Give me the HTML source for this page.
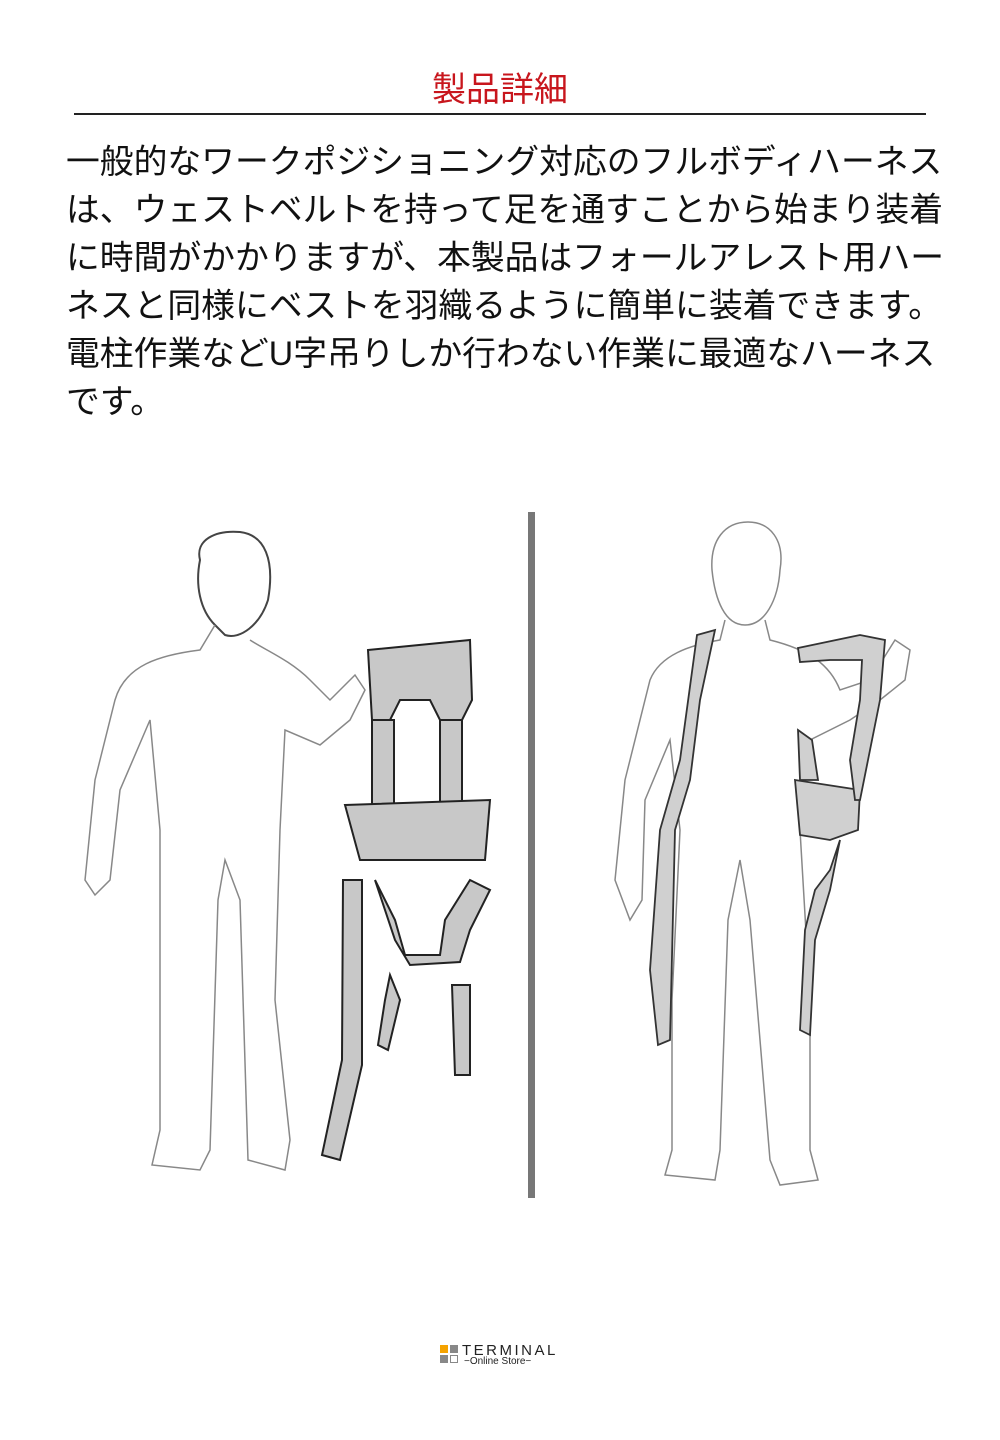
<!DOCTYPE html>
<html><head><meta charset="utf-8"><style>
html,body{margin:0;padding:0;background:#fff;}
body{width:1000px;height:1440px;position:relative;overflow:hidden;font-family:"Liberation Sans","Noto Sans CJK JP",sans-serif;}
.title{position:absolute;left:0;width:1000px;top:68px;text-align:center;color:#c8161d;font-size:34px;line-height:44px;}
.rule{position:absolute;left:74px;width:852px;top:113px;height:2px;background:#222;}
.txt{position:absolute;left:66px;top:138px;font-size:33.8px;line-height:48px;color:#111;white-space:nowrap;}
.logo{position:absolute;left:440px;top:1345px;}
</style></head><body>
<div class="title">製品詳細</div>
<div class="rule"></div>
<div class="txt">一般的なワークポジショニング対応のフルボディハーネス<br>は、ウェストベルトを持って足を通すことから始まり装着<br>に時間がかかりますが、本製品はフォールアレスト用ハー<br>ネスと同様にベストを羽織るように簡単に装着できます。<br>電柱作業などU字吊りしか行わない作業に最適なハーネス<br>です。</div>

<svg style="position:absolute;left:0;top:0" width="1000" height="1440">
<rect x="528" y="512" width="7" height="686" fill="#777"/>
<g fill="none" stroke="#888" stroke-width="1.5">
<path d="M200 560 C195 540 215 530 240 532 C265 535 275 560 268 600 C260 625 240 640 225 635 L215 625 C200 610 195 585 200 560 Z" fill="#fff" stroke="#444" stroke-width="2"/>
<path d="M215 625 L200 650 C160 655 125 665 115 700 L95 780 L85 880 L95 895 L110 880 L120 790 L150 720 L160 830 L160 1000 L160 1130 L152 1165 L200 1170 L210 1150 L218 900 L225 860 L240 900 L248 1160 L285 1170 L290 1140 L275 1000 L280 830 L285 730 L320 745 L350 720 L365 690 L355 675 L330 700 L310 680 C290 660 265 650 250 640"/>
<path d="M712 570 C710 540 725 522 748 522 C770 522 785 540 780 570 C778 600 765 625 745 625 C725 625 715 600 712 570 Z"/>
<path d="M725 620 L720 640 C690 645 660 655 650 680 L625 780 L615 880 L630 920 L642 900 L645 800 L670 740 L680 830 L672 1000 L672 1150 L665 1175 L715 1180 L720 1150 L728 920 L740 860 L750 920 L770 1160 L780 1185 L818 1180 L810 1150 L810 1000 L800 830 L810 740 L850 720 L880 700 L905 680 L910 650 L895 640 L870 680 L840 690 C830 665 810 650 770 640 L765 620"/>
</g>
<g fill="#c8c8c8" stroke="#222" stroke-width="2">
<path d="M368 650 L470 640 L472 700 L462 720 L440 720 L430 700 L400 700 L390 720 L372 720 Z"/>
<rect x="372" y="720" width="22" height="85"/>
<rect x="440" y="720" width="22" height="85"/>
<path d="M345 805 L490 800 L485 860 L360 860 Z"/>
<path d="M343 880 L362 880 L362 1065 L340 1160 L322 1155 L342 1060 Z"/>
<path d="M375 880 L395 940 L410 965 L460 962 L470 930 L490 890 L470 880 L445 920 L440 955 L405 955 L395 920 Z"/>
<path d="M390 975 L400 1000 L388 1050 L378 1045 L385 1000 Z"/>
<path d="M452 985 L470 985 L470 1075 L455 1075 Z"/>
</g>
<g fill="#d0d0d0" stroke="#333" stroke-width="1.8">
<path d="M697 635 L715 630 L700 700 L690 780 L675 830 L670 1040 L658 1045 L650 970 L660 830 L680 760 Z"/>
<path d="M795 780 L860 790 L858 830 L830 840 L800 835 Z"/>
<path d="M798 648 L860 635 L885 640 L880 700 L868 760 L860 800 L855 800 L850 760 L860 700 L862 660 L830 660 L800 662 Z"/>
<path d="M840 840 L830 870 L815 890 L805 930 L800 1030 L810 1035 L815 940 L830 890 Z"/>
<path d="M798 730 L812 740 L818 780 L800 780 Z"/>
</g>
</svg>

<div class="logo">
<svg width="20" height="20" style="position:absolute;left:0;top:0">
<rect x="0" y="0" width="8" height="8" fill="#f5a300"/>
<rect x="10" y="0" width="8" height="8" fill="#888"/>
<rect x="0" y="10" width="8" height="8" fill="#888"/>
<rect x="10.5" y="10.5" width="7" height="7" fill="#fff" stroke="#888"/>
</svg>
<div style="position:absolute;left:22px;top:-3px;font-size:15px;letter-spacing:2.5px;color:#222;white-space:nowrap;">TERMINAL</div>
<div style="position:absolute;left:24px;top:11px;font-size:10px;color:#222;white-space:nowrap;">−Online Store−</div>
</div>
</body></html>
